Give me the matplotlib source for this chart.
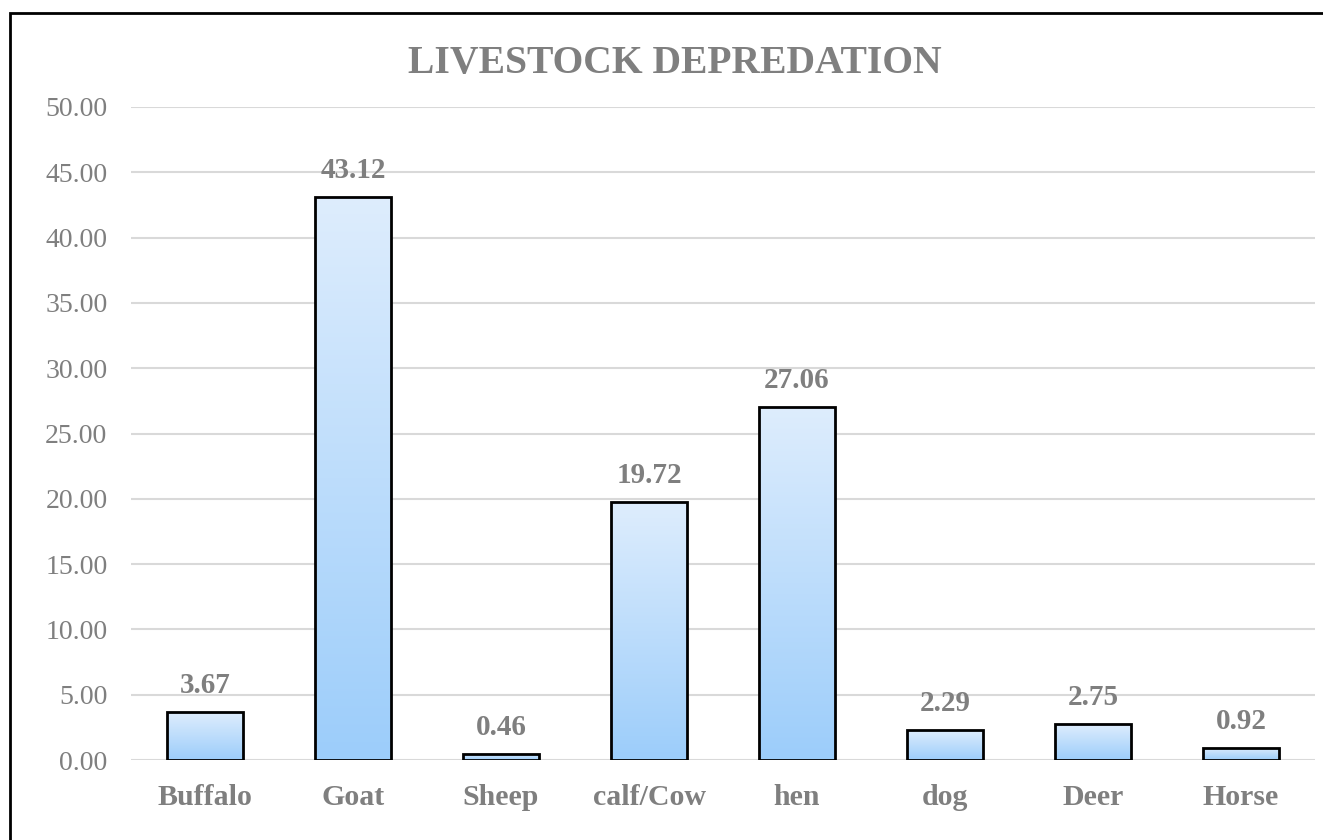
import numpy as np
import matplotlib.pyplot as plt
from matplotlib.colors import LinearSegmentedColormap
from matplotlib.patches import Rectangle

# livestock losses (%)
animals = ["Buffalo", "Goat", "Sheep", "calf/Cow", "hen", "dog", "Deer", "Horse"]
losses = [3.67, 43.12, 0.46, 19.72, 27.06, 2.29, 2.75, 0.92]
yticks = [0, 5, 10, 15, 20, 25, 30, 35, 40, 45, 50]

plt.rcParams['font.family'] = ['Liberation Serif', 'DejaVu Serif']
grey = "#7f7f7f"

fig = plt.figure(figsize=(13.23, 8.4), dpi=100)
ax = fig.add_axes([131 / 1323, 1 - 760 / 840, (1315 - 131) / 1323, (760 - 107) / 840])

# light-to-mid blue fill, top to bottom
cmap = LinearSegmentedColormap.from_list("bluefade", ["#deedfd", "#9ccdfa"])
grad = np.linspace(0, 1, 256).reshape(-1, 1)

x = np.arange(len(animals))
width = 0.51
bars = ax.bar(x, losses, width, facecolor="none", edgecolor="black", linewidth=2, zorder=3)
for b in bars:
    x0, y0 = b.get_x(), b.get_y()
    w, h = b.get_width(), b.get_height()
    im = ax.imshow(grad, cmap=cmap, aspect="auto", extent=[x0, x0 + w, y0, y0 + h],
                   origin="upper", zorder=2)
    im.set_clip_path(b)

for xi, v in zip(x, losses):
    ax.text(xi, v + 1.0, f"{v:.2f}", ha="center", va="bottom", fontsize=21,
            fontweight="bold", color=grey)

ax.set_xlim(-0.5, len(animals) - 0.5)
ax.set_ylim(0, 50)
ax.set_yticks(yticks)
ax.set_yticklabels([f"{t:.2f}" for t in yticks], fontsize=20, color=grey)
ax.set_xticks(x)
ax.set_xticklabels(animals, fontsize=21.5, fontweight="bold", color=grey)
ax.tick_params(length=0)
ax.tick_params(axis="y", pad=17)
ax.tick_params(axis="x", pad=17)
ax.grid(axis="y", color="#d9d9d9", linewidth=1.5, zorder=0)
for s in ax.spines.values():
    s.set_visible(False)

fig.text(0.51, 1 - 63 / 840, "LIVESTOCK DEPREDATION", ha="center", va="center",
         fontsize=28.5, fontweight="bold", color=grey)

# outer frame of the chart area
fig.patches.append(Rectangle((10 / 1323, -0.1), 1.2, 1 - 13 / 840 + 0.1,
                             transform=fig.transFigure, fill=False,
                             edgecolor="black", linewidth=2))

fig.savefig("out.png", dpi=100)
